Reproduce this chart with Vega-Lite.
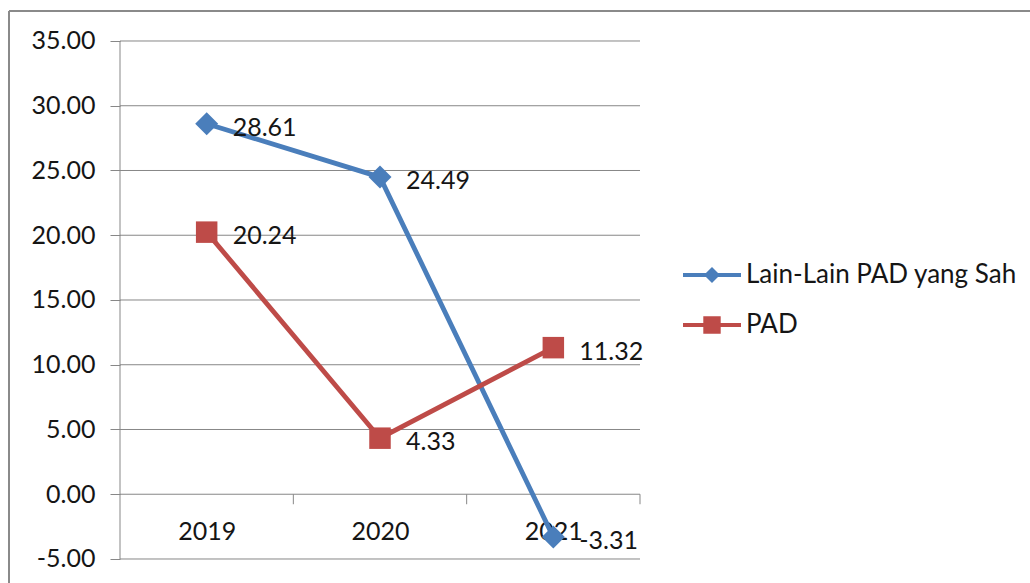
{
  "$schema": "https://vega.github.io/schema/vega-lite/v6.json",
  "width": 1021,
  "height": 572,
  "autosize": {"type": "none"},
  "padding": {"left": 9, "top": 11, "right": 0, "bottom": 0},
  "background": "white",
  "config": {
    "locale": {"number": {"decimal": ".", "thousands": ",", "grouping": [3], "currency": ["$", ""], "minus": "-"}},
    "view": {"stroke": "#8a8a8a", "strokeWidth": 2, "strokeDash": [1021, 1593, 572, 0], "fill": "white"},
    "font": "Lato",
    "axis": {"labelFont": "Lato", "labelFontSize": 25, "labelColor": "#151515", "grid": false, "domain": false}
  },
  "datasets": {
    "series": [
      {"year": 2019, "series": "Lain-Lain PAD yang Sah", "value": 28.61},
      {"year": 2020, "series": "Lain-Lain PAD yang Sah", "value": 24.49},
      {"year": 2021, "series": "Lain-Lain PAD yang Sah", "value": -3.31},
      {"year": 2019, "series": "PAD", "value": 20.24},
      {"year": 2020, "series": "PAD", "value": 4.33},
      {"year": 2021, "series": "PAD", "value": 11.32}
    ],
    "grid": [{"v": -5}, {"v": 0}, {"v": 5}, {"v": 10}, {"v": 15}, {"v": 20}, {"v": 25}, {"v": 30}, {"v": 35}],
    "boundaries": [{"b": 2019.5}, {"b": 2020.5}, {"b": 2021.5}]
  },
  "layer": [
    {
      "data": {"name": "series"},
      "transform": [{"filter": "false"}],
      "mark": {"type": "point", "filled": true, "opacity": 1},
      "encoding": {
        "color": {
          "field": "series", "type": "nominal",
          "scale": {"domain": ["Lain-Lain PAD yang Sah", "PAD"], "range": ["#4A7EBB", "#BE4B48"]},
          "legend": {"orient": "none", "legendX": 674, "legendY": 235, "title": null, "labelFont": "Lato", "labelFontSize": 26, "labelColor": "#151515", "labelLimit": 0, "symbolSize": 3364, "symbolStrokeWidth": 0, "labelOffset": 5, "rowPadding": 8, "padding": 0}
        },
        "shape": {
          "field": "series", "type": "nominal",
          "scale": {
            "domain": ["Lain-Lain PAD yang Sah", "PAD"],
            "range": [
              "M-1,-0.069L1,-0.069L1,0.069L-1,0.069Z M-0.276,0L0,-0.276L0.276,0L0,0.276Z",
              "M-1,-0.069L1,-0.069L1,0.069L-1,0.069Z M-0.3,-0.3L0.3,-0.3L0.3,0.3L-0.3,0.3Z"
            ]
          },
          "legend": {"orient": "none", "legendX": 674, "legendY": 235, "title": null, "labelFont": "Lato", "labelFontSize": 26, "labelColor": "#151515", "labelLimit": 0, "symbolSize": 3364, "symbolStrokeWidth": 0, "labelOffset": 5, "rowPadding": 8, "padding": 0}
        }
      }
    },
    {
      "data": {"name": "grid"},
      "mark": {"type": "rule", "color": "#878787", "strokeWidth": 1},
      "encoding": {
        "y": {
          "field": "v", "type": "quantitative",
          "scale": {"domain": [-6.8533, 37.3166], "nice": false, "zero": false},
          "axis": {"title": null, "orient": "left", "offset": -111, "values": [-5, 0, 5, 10, 15, 20, 25, 30, 35], "format": ".2f", "tickSize": 10, "tickColor": "#878787", "tickWidth": 1, "labelPadding": 15, "labelBaseline": "middle"}
        },
        "x": {
          "datum": 2018.5, "type": "quantitative",
          "scale": {"domain": [2017.8596, 2023.75], "nice": false, "zero": false},
          "axis": {"title": null, "orient": "bottom", "offset": -89, "values": [2019, 2020, 2021], "format": "d", "ticks": false, "tickSize": 0, "labelPadding": 25, "labelBaseline": "top", "labelFlush": false, "labelOverlap": false}
        },
        "x2": {"datum": 2021.5}
      }
    },
    {
      "data": {"values": [{}]},
      "mark": {"type": "rule", "color": "#878787", "strokeWidth": 1},
      "encoding": {
        "x": {"datum": 2018.5, "type": "quantitative"},
        "y": {"datum": -5, "type": "quantitative"},
        "y2": {"datum": 35}
      }
    },
    {
      "data": {"name": "boundaries"},
      "mark": {"type": "rule", "color": "#878787", "strokeWidth": 1},
      "encoding": {
        "x": {"field": "b", "type": "quantitative"},
        "y": {"datum": 0, "type": "quantitative"},
        "y2": {"datum": -0.772}
      }
    },
    {
      "data": {"name": "series"},
      "mark": {"type": "line", "strokeWidth": 4.8},
      "encoding": {
        "x": {"field": "year", "type": "quantitative"},
        "y": {"field": "value", "type": "quantitative"},
        "color": {"field": "series", "type": "nominal"}
      }
    },
    {
      "data": {"name": "series"},
      "transform": [{"filter": "datum.series === 'Lain-Lain PAD yang Sah'"}],
      "mark": {"type": "point", "shape": "diamond", "filled": true, "opacity": 1, "size": 529},
      "encoding": {
        "x": {"field": "year", "type": "quantitative"},
        "y": {"field": "value", "type": "quantitative"},
        "color": {"field": "series", "type": "nominal"}
      }
    },
    {
      "data": {"name": "series"},
      "transform": [{"filter": "datum.series === 'PAD'"}],
      "mark": {"type": "point", "shape": "square", "filled": true, "opacity": 1, "size": 462},
      "encoding": {
        "x": {"field": "year", "type": "quantitative"},
        "y": {"field": "value", "type": "quantitative"},
        "color": {"field": "series", "type": "nominal"}
      }
    },
    {
      "data": {"name": "series"},
      "mark": {"type": "text", "align": "left", "baseline": "middle", "dx": 26, "dy": 4, "font": "Lato", "fontSize": 25, "color": "#151515"},
      "encoding": {
        "x": {"field": "year", "type": "quantitative"},
        "y": {"field": "value", "type": "quantitative"},
        "text": {"field": "value", "type": "quantitative", "format": ".2f"}
      }
    }
  ]
}
